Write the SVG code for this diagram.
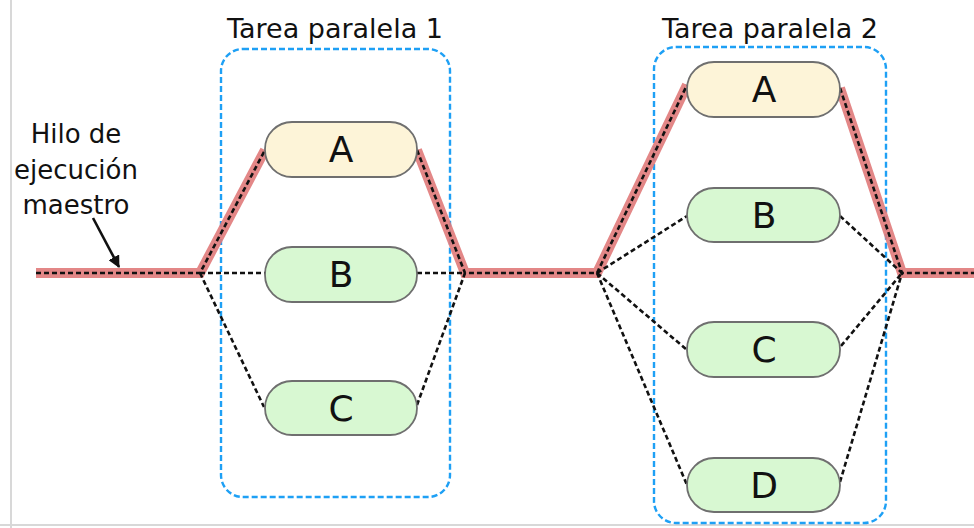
<svg xmlns="http://www.w3.org/2000/svg" width="974" height="528" viewBox="0 0 974 528">
<style>
.bg{fill:#ffffff}
.frame{stroke:#d8d8d8;stroke-width:2;fill:none}
.task{fill:none;stroke:#1ea0f5;stroke-width:2.4;stroke-dasharray:6,3}
.node rect{stroke:#6f6f6f;stroke-width:1.8}
.ya{fill:#fdf4d8}
.gr{fill:#d8f8d2}
.lbl{font-family:"DejaVu Sans",sans-serif;fill:#111}
.letter{font-family:"DejaVu Sans",sans-serif;font-size:36px;fill:#111;text-anchor:middle}
.red{fill:none;stroke:#e07a7a;stroke-width:10;stroke-linejoin:miter;opacity:0.9}
.dash{fill:none;stroke:#111;stroke-width:2.6;stroke-dasharray:5,3}
</style>
<defs>
<marker id="ah" markerWidth="12" markerHeight="12" refX="11" refY="6" orient="auto" markerUnits="userSpaceOnUse">
<path d="M0,0 L12,6 L0,12 Z" fill="#111"/>
</marker>
</defs>
<rect class="bg" x="0" y="0" width="974" height="528"/>
<line class="frame" x1="11" y1="0" x2="11" y2="528"/>
<line class="frame" x1="0" y1="525" x2="974" y2="525"/>

<g id="task1">
<rect class="task" x="221" y="49" width="229" height="448" rx="22"/>
<text class="lbl" x="335" y="38" font-size="27" text-anchor="middle">Tarea paralela 1</text>
</g>
<g id="task2">
<rect class="task" x="654" y="47" width="232" height="476" rx="22"/>
<text class="lbl" x="770" y="38" font-size="27" text-anchor="middle">Tarea paralela 2</text>
</g>

<g id="connectors">
<polyline class="red" points="36,273 200,273 265,150"/>
<polyline class="red" points="417,150 465,273 597,273 687,85"/>
<polyline class="red" points="840,88 902,273 974,273"/>
<polyline class="dash" points="36,273 200,273 265,150"/>
<polyline class="dash" points="417,150 465,273 597,273 687,85"/>
<polyline class="dash" points="840,88 902,273 974,273"/>
<line class="dash" x1="200" y1="273" x2="265" y2="273"/>
<line class="dash" x1="417" y1="273" x2="465" y2="273"/>
<line class="dash" x1="200" y1="273" x2="264" y2="407"/>
<line class="dash" x1="417" y1="405" x2="465" y2="273"/>
<line class="dash" x1="597" y1="273" x2="687" y2="216"/>
<line class="dash" x1="597" y1="273" x2="687" y2="350"/>
<line class="dash" x1="597" y1="273" x2="687" y2="485"/>
<line class="dash" x1="840" y1="216" x2="902" y2="273"/>
<line class="dash" x1="841" y1="346" x2="902" y2="273"/>
<line class="dash" x1="840" y1="482" x2="902" y2="273"/>
<line x1="93" y1="218" x2="119" y2="267" stroke="#111" stroke-width="2.6" marker-end="url(#ah)"/>
</g>

<g id="label-hilo">
<text class="lbl" font-size="26" text-anchor="middle"><tspan x="76" y="143">Hilo de</tspan><tspan x="76" y="179">ejecución</tspan><tspan x="76" y="214">maestro</tspan></text>
</g>

<g id="t1A" class="node"><rect class="ya" x="265" y="122" width="152" height="55" rx="27"/><text class="letter" x="341" y="162">A</text></g>
<g id="t1B" class="node"><rect class="gr" x="265" y="247" width="152" height="55" rx="27"/><text class="letter" x="341" y="287">B</text></g>
<g id="t1C" class="node"><rect class="gr" x="265" y="381" width="152" height="54" rx="27"/><text class="letter" x="341" y="421">C</text></g>

<g id="t2A" class="node"><rect class="ya" x="687" y="62" width="153" height="55" rx="27"/><text class="letter" x="764" y="102">A</text></g>
<g id="t2B" class="node"><rect class="gr" x="687" y="188" width="153" height="54" rx="27"/><text class="letter" x="764" y="228">B</text></g>
<g id="t2C" class="node"><rect class="gr" x="687" y="322" width="153" height="55" rx="27"/><text class="letter" x="764" y="362">C</text></g>
<g id="t2D" class="node"><rect class="gr" x="687" y="458" width="153" height="54" rx="27"/><text class="letter" x="764" y="498">D</text></g>
</svg>
